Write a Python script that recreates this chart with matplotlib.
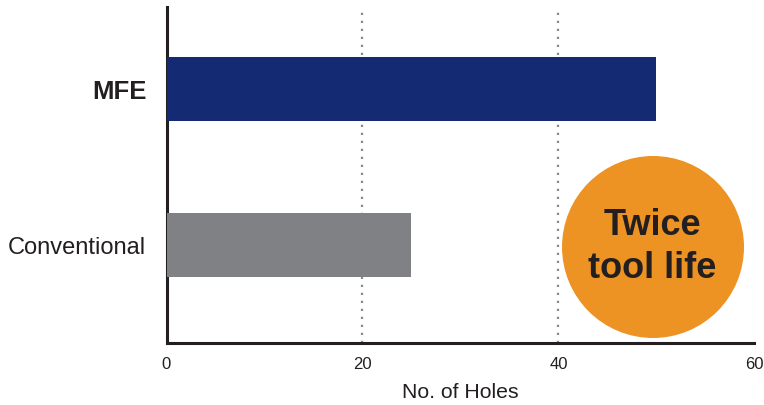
import matplotlib
matplotlib.use("Agg")
import matplotlib.pyplot as plt
from matplotlib.patches import Ellipse

plt.rcParams['font.family'] = ['Liberation Sans', 'DejaVu Sans']

categories = ["Conventional", "MFE"]
holes = [25, 50]
bar_colors = ["#808184", "#142a73"]
x_ticks = [0, 20, 40, 60]

W, H = 764, 405
fig = plt.figure(figsize=(W / 100, H / 100), dpi=100)
ax = fig.add_axes([166.5 / W, 1 - 343 / H, 588 / W, 336 / H])

ypos = list(range(len(categories)))
ax.barh(ypos, holes, height=0.41, color=bar_colors, zorder=3)

for xv in (20, 40):
    ax.axvline(xv, color="#8a8a8a", linestyle=(0, (1, 2.6)), linewidth=1.6, zorder=1)

ax.set_xlim(0, 60)
ax.set_ylim(-0.628, 1.526)
ax.set_xticks(x_ticks)
ax.set_xticklabels([str(v) for v in x_ticks], fontsize=12, color="#231f20")
ax.tick_params(axis="x", length=0, pad=10)
ax.set_yticks(ypos)
ax.set_yticklabels(categories, fontsize=17, color="#231f20", va="center_baseline")
ax.get_yticklabels()[1].set_fontweight("bold")
ax.get_yticklabels()[1].set_fontsize(18.5)
ax.tick_params(axis="y", length=0, pad=14.5)
ax.set_xlabel("No. of Holes", fontsize=15.3, color="#231f20", labelpad=8)

for side in ("top", "right"):
    ax.spines[side].set_visible(False)
for side in ("left", "bottom"):
    ax.spines[side].set_linewidth(2.2)
    ax.spines[side].set_color("#231f20")

badge = Ellipse((653 / W, 1 - 247 / H), 182 / W, 182 / H,
                transform=fig.transFigure, facecolor="#ec9323",
                edgecolor="none", zorder=5)
fig.patches.append(badge)
fig.text(652 / W, 1 - 247 / H, "Twice\ntool life", ha="center", va="center",
         fontsize=26, fontweight="bold", color="#231f20", linespacing=1.27,
         zorder=6)

fig.savefig("out.png", dpi=100)
